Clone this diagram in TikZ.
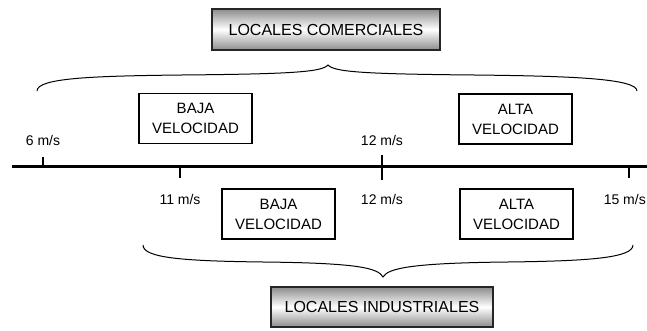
\documentclass[tikz,border=0pt]{standalone}
\usepackage{fontspec}
\setmainfont{Liberation Sans}
\usepackage{tikz}

\tikzset{
  titulo/.style={draw=black!85,line width=1.3pt,top color=black!45,bottom color=black!45,middle color=white,
    minimum width=228pt,minimum height=41pt,font=\fontsize{16}{18}\selectfont},
  caja/.style={draw,line width=1.1pt,minimum width=113pt,minimum height=50pt,align=center,
    font=\fontsize{15}{20}\selectfont},
  vel/.style={font=\fontsize{14}{16}\selectfont},
  marca/.style={line width=1.1pt}
}

\begin{document}
\begin{tikzpicture}[x=1pt,y=-1pt]
      \useasboundingbox (0,0) rectangle (647,331);
      % titulos
      \node[titulo] (com) at (326,29.5) {LOCALES COMERCIALES};
      \node[titulo,minimum width=222pt,minimum height=40pt] (ind) at (382,307) {LOCALES INDUSTRIALES};
      % cajas de velocidad
      \node[caja] (bajaC) at (195.5,118.5) {BAJA\\VELOCIDAD};
      \node[caja] (altaC) at (515.5,119) {ALTA\\VELOCIDAD};
      \node[caja] (bajaI) at (278.5,214) {BAJA\\VELOCIDAD};
      \node[caja] (altaI) at (516.5,214) {ALTA\\VELOCIDAD};
      % eje
      \coordinate (e0) at (12,167);
      \coordinate (e1) at (647,167);
      \draw[line width=3pt] (e0) -- (e1);
      \foreach \x/\n in {43/6,382/12}
      \node[vel] (s\n) at (\x,140) {\n\ m/s};
      \foreach \x/\n in {180/11,382/12}
      \node[vel] (i\n) at (\x,199) {\n\ m/s};
      \node[vel,anchor=east,inner xsep=1pt] (i15) at (647,199) {15 m/s};
      \draw[marca] (43,157) -- (43,167);
      \draw[marca] (382,155) -- (382,180);
      \draw[marca] (180,167) -- (180,178);
      \draw[marca] (629,167) -- (629,178);
      % llaves
      \coordinate (com-l) at (37,91);
      \coordinate (com-m) at (182,75);
      \coordinate (com-t) at (328,65);
      \coordinate (com-n) at (474,75);
      \coordinate (com-r) at (637,91);
      \draw[line width=1pt] (com-l) .. controls +(0,-13) and +(-90,1) .. (com-m)
        .. controls +(110,-1) and +(-6,7) .. (com-t)
        .. controls +(6,7) and +(-110,-1) .. (com-n)
        .. controls +(90,1) and +(0,-13) .. (com-r);
      \coordinate (ind-l) at (143,245);
      \coordinate (ind-m) at (263,262);
      \coordinate (ind-t) at (383,277);
      \coordinate (ind-n) at (508,262);
      \coordinate (ind-r) at (633,245);
      \draw[line width=1pt] (ind-l) .. controls +(0,13) and +(-80,-1) .. (ind-m)
        .. controls +(95,1) and +(-5,-9) .. (ind-t)
        .. controls +(5,-9) and +(-95,1) .. (ind-n)
        .. controls +(80,-1) and +(0,13) .. (ind-r);
    \end{tikzpicture}
\end{document}
